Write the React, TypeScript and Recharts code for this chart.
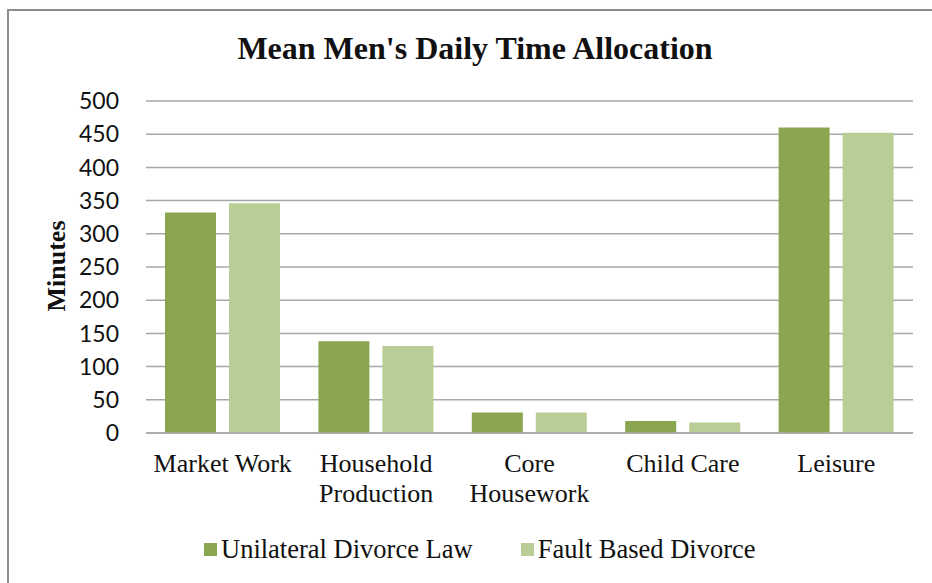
import { Bar, BarChart, CartesianGrid, XAxis, YAxis } from 'recharts';

// 讀圖估值（分鐘）
const categories = ['Market Work', 'Household\nProduction', 'Core\nHousework', 'Child Care', 'Leisure'];
const unilateral = [332, 138, 31, 18, 460];
const faultBased = [346, 131, 31, 16, 452];
const yTicks = [0, 50, 100, 150, 200, 250, 300, 350, 400, 450, 500];

const SERIES = [
  { key: 'unilateral', name: 'Unilateral Divorce Law', color: '#8aa650' },
  { key: 'fault', name: 'Fault Based Divorce', color: '#b9cd96' },
];

const data = categories.map((c, i) => ({ label: c, unilateral: unilateral[i], fault: faultBased[i] }));

const SERIF = '"Liberation Serif", "Times New Roman", serif';
const SANS = 'Lato, "Liberation Sans", sans-serif';
const GRID = '#a8a8a8';

interface TickProps {
  x?: number;
  y?: number;
  payload?: { value: string };
}
function CategoryTick({ x = 0, y = 0, payload }: TickProps) {
  const lines = String(payload?.value ?? '').split('\n');
  return (
    <text x={x} y={y + 31} textAnchor="middle" fill="#111" fontFamily={SERIF} fontSize={26}>
      {lines.map((l, i) => (
        <tspan key={i} x={x} dy={i === 0 ? 0 : 30}>
          {l}
        </tspan>
      ))}
    </text>
  );
}

function ChartLegend() {
  return (
    <div
      style={{
        position: 'absolute',
        left: 204,
        top: 534,
        display: 'flex',
        alignItems: 'center',
        fontFamily: SERIF,
        fontSize: 26.5,
        color: '#111',
      }}
    >
      {SERIES.map((s, i) => (
        <div key={s.key} style={{ display: 'flex', alignItems: 'center', marginLeft: i === 0 ? 0 : 48 }}>
          <span style={{ width: 13, height: 13, background: s.color, display: 'inline-block', marginRight: 4 }} />
          <span>{s.name}</span>
        </div>
      ))}
    </div>
  );
}

export default function App() {
  return (
    <div style={{ position: 'absolute', left: 0, top: 0, width: 932, height: 583, overflow: 'hidden', background: '#fff' }}>
      <div
        style={{
          position: 'absolute',
          left: 7,
          top: 9,
          width: 960,
          height: 620,
          border: '2px solid #8c8c8c',
          boxSizing: 'border-box',
        }}
      />
      <div
        style={{
          position: 'absolute',
          left: 0,
          width: 950,
          top: 28,
          textAlign: 'center',
          fontFamily: SERIF,
          fontWeight: 'bold',
          fontSize: 32,
          lineHeight: '40px',
          color: '#111',
        }}
      >
        Mean Men's Daily Time Allocation
      </div>
      <div
        style={{
          position: 'absolute',
          left: 57,
          top: 266,
          transform: 'translate(-50%, -50%) rotate(-90deg)',
          fontFamily: SERIF,
          fontWeight: 'bold',
          fontSize: 26,
          whiteSpace: 'nowrap',
          color: '#111',
        }}
      >
        Minutes
      </div>
      <div style={{ position: 'absolute', left: 0, top: 0 }}>
        <BarChart
          width={932}
          height={583}
          data={data}
          margin={{ top: 101, right: 19, bottom: 100, left: 0 }}
          barGap={13}
          barSize={51}
        >
          <CartesianGrid vertical={false} stroke={GRID} strokeWidth={1.5} />
          <XAxis
            dataKey="label"
            axisLine={{ stroke: GRID, strokeWidth: 1.5 }}
            tickLine={false}
            tick={<CategoryTick />}
            interval={0}
            height={50}
          />
          <YAxis
            width={146}
            domain={[0, 500]}
            ticks={yTicks}
            interval={0}
            axisLine={false}
            tickLine={false}
            tickMargin={21}
            tick={{ fill: '#111', fontSize: 23, fontFamily: SANS }}
          />
          {SERIES.map((s) => (
            <Bar key={s.key} dataKey={s.key} name={s.name} fill={s.color} isAnimationActive={false} />
          ))}
        </BarChart>
      </div>
      <ChartLegend />
    </div>
  );
}
